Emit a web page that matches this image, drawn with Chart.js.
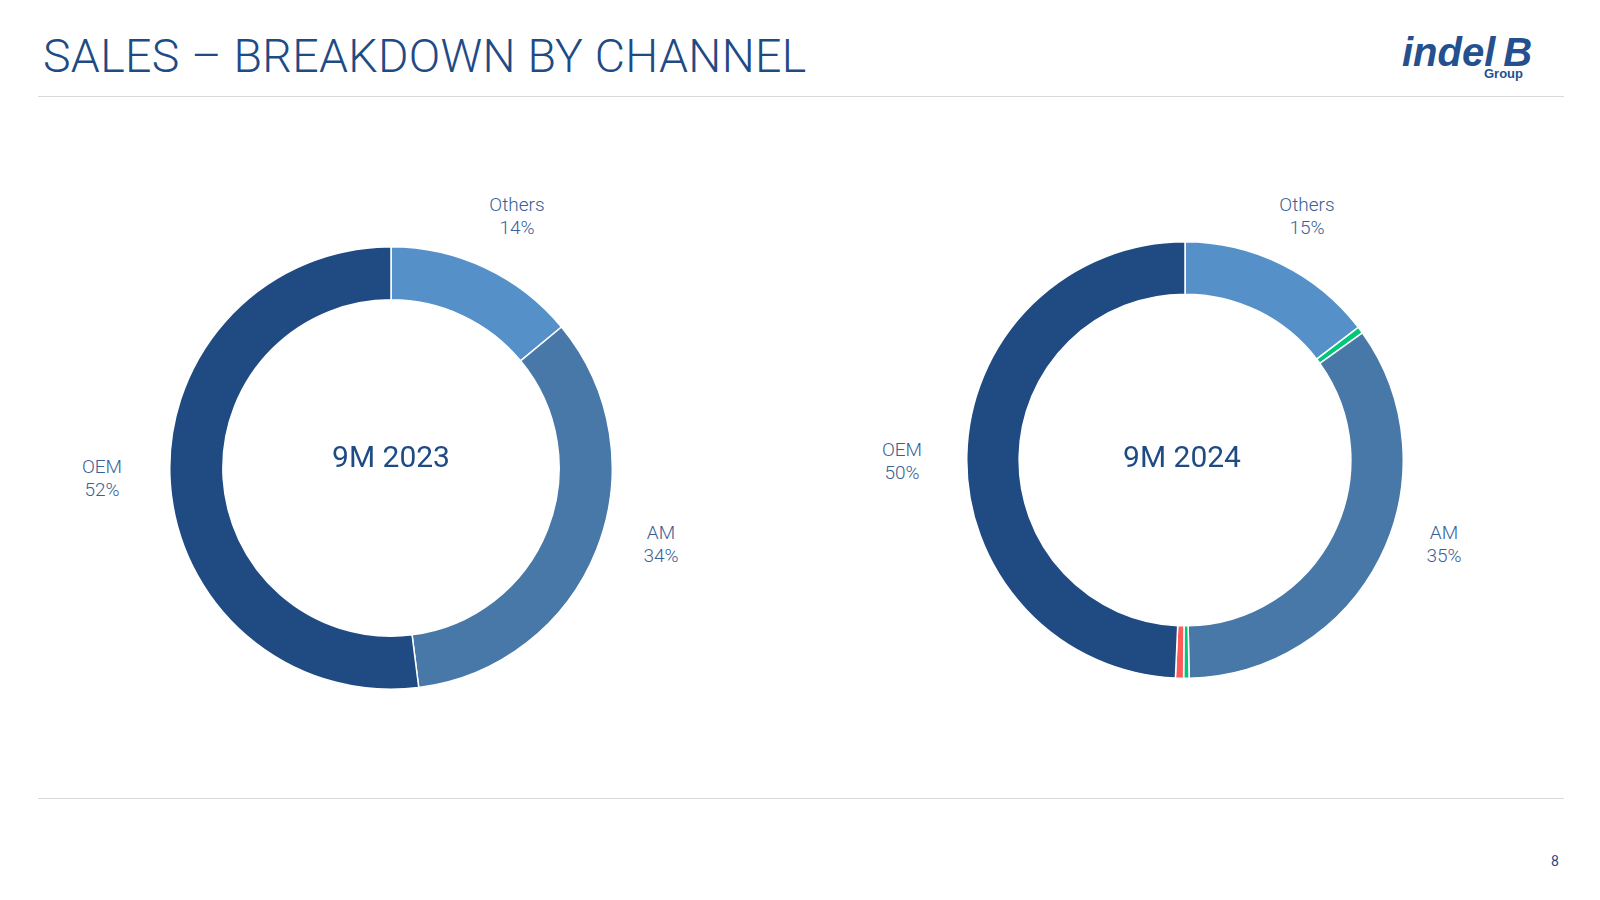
<!DOCTYPE html>
<html>
<head>
<meta charset="utf-8">
<script src="https://cdn.jsdelivr.net/npm/chart.js@4"></script>
<style>
body{margin:0;width:1600px;height:900px;background:#fff;font-family:Roboto,sans-serif;color:#1f4b82;position:relative;overflow:hidden}
.title{position:absolute;left:43px;top:29px;font-size:46.5px;font-weight:300;color:#1f4b85;letter-spacing:0.3px}
.logo{position:absolute;left:1402px;top:30px;font-style:italic;font-weight:900;font-size:40px;color:#24508f;font-family:"Liberation Sans",Arial,sans-serif;letter-spacing:0px}
.logo small{position:absolute;left:82px;top:36px;font-size:13px;font-style:normal;font-weight:700;letter-spacing:0}
.hr{position:absolute;left:38px;width:1526px;height:1px;background:#d9d9d9}
.lbl{position:absolute;font-size:19px;text-align:center;color:#3a5f96;line-height:23px;font-weight:300;transform:translateX(-50%)}
.center{position:absolute;font-size:30px;color:#1f4b85;transform:translate(-50%,-50%)}
canvas{position:absolute}
.pg{position:absolute;left:1551px;top:853px;font-size:14px;color:#1f4b85}
</style>
</head>
<body>
<div class="title">SALES – BREAKDOWN BY CHANNEL</div>
<div class="logo">indel&thinsp;B<small>Group</small></div>
<div class="hr" style="top:96px"></div>
<div class="hr" style="top:798px"></div>
<canvas id="c1" width="444" height="444" style="left:169px;top:246px;width:444px;height:444px"></canvas>
<canvas id="c2" width="438" height="438" style="left:966px;top:241px;width:438px;height:438px"></canvas>
<div class="center" style="left:391px;top:456px">9M 2023</div>
<div class="center" style="left:1182px;top:456px">9M 2024</div>
<div class="lbl" style="left:517px;top:193px">Others<br>14%</div>
<div class="lbl" style="left:661px;top:521px">AM<br>34%</div>
<div class="lbl" style="left:102px;top:455px">OEM<br>52%</div>
<div class="lbl" style="left:1307px;top:193px">Others<br>15%</div>
<div class="lbl" style="left:1444px;top:521px">AM<br>35%</div>
<div class="lbl" style="left:902px;top:438px">OEM<br>50%</div>
<div class="pg">8</div>
<script>
const labels2023 = ['Others','AM','OEM'];
const values2023 = [14,34,52];
const colors2023 = ['#5591c8','#4878a8','#1f4b82'];

const labels2024 = ['Others','','AM','','','OEM'];
const values2024 = [14.6,0.5,34.6,0.4,0.6,49.3];
const colors2024 = ['#5591c8','#00c77a','#4878a8','#00c77a','#ff5a5a','#1f4b82'];

function creaDonut(id, labels, values, colors){
	return new Chart(document.getElementById(id), {
		type:'doughnut',
		data:{labels:labels, datasets:[{data:values, backgroundColor:colors, borderColor:'#fff', borderWidth:1.5}]},
		options:{
			responsive:false, animation:false, cutout:'76%',
			plugins:{legend:{display:false}, tooltip:{enabled:false}}
		}
	});
}
creaDonut('c1', labels2023, values2023, colors2023);
creaDonut('c2', labels2024, values2024, colors2024);
</script>
</body>
</html>
